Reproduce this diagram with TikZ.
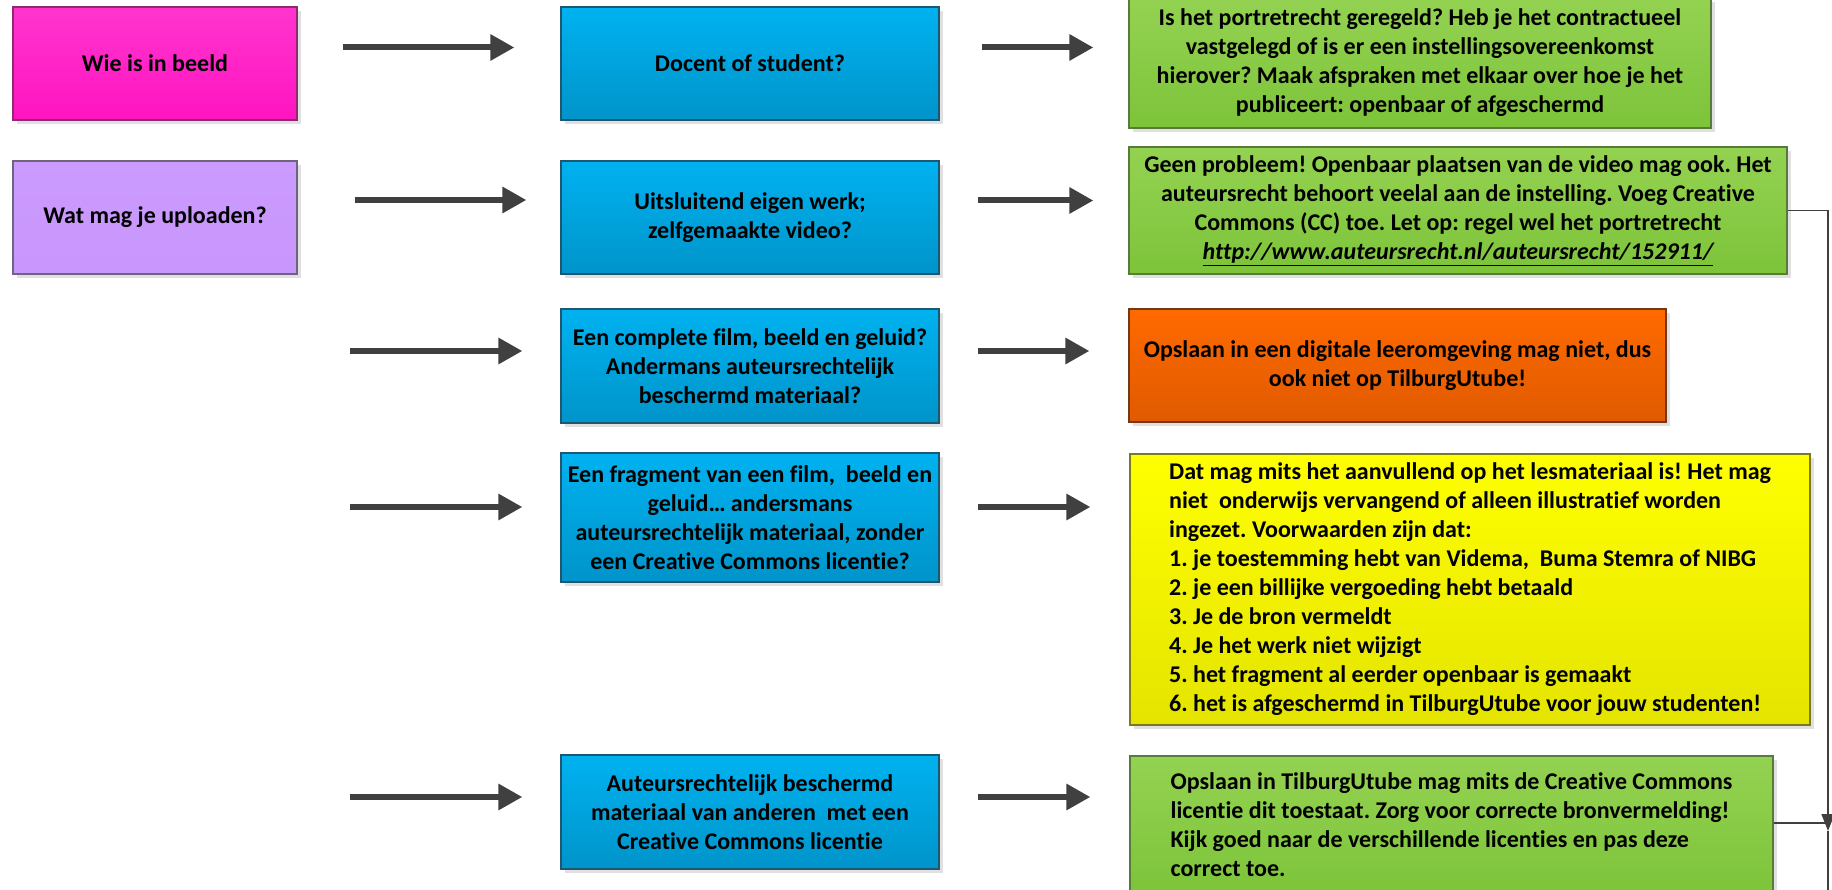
\documentclass[tikz,border=0pt]{standalone}
\usepackage{fontspec}
\setmainfont{Carlito}[Ligatures={NoCommon}]
\usetikzlibrary{arrows.meta,shadows}
\frenchspacing
\definecolor{pinkT}{HTML}{FF35CE}
\definecolor{pinkB}{HTML}{FF14C0}
\definecolor{pinkD}{HTML}{8E2A6E}
\definecolor{purpT}{HTML}{CC9BFF}
\definecolor{purpB}{HTML}{C896FC}
\definecolor{purpD}{HTML}{6F6480}
\definecolor{blueT}{HTML}{00B2F0}
\definecolor{blueB}{HTML}{0094CA}
\definecolor{blueD}{HTML}{1F5670}
\definecolor{grnT}{HTML}{94D252}
\definecolor{grnB}{HTML}{7DC43A}
\definecolor{grnD}{HTML}{587A3A}
\definecolor{orT}{HTML}{FF6A00}
\definecolor{orB}{HTML}{E05A00}
\definecolor{orD}{HTML}{6E3A1A}
\definecolor{yelT}{HTML}{FFFF00}
\definecolor{yelB}{HTML}{E4E400}
\definecolor{yelD}{HTML}{7A7A20}
\definecolor{arrgray}{HTML}{404040}
\tikzset{
  box/.style={draw, line width=1.2pt, inner sep=0pt, align=center,
    font=\fontsize{24}{29}\selectfont\bfseries,
    general shadow={fill=black!12, shadow xshift=4pt, shadow yshift=-4pt}},
  pinkbox/.style={box, draw=pinkD, top color=pinkT, bottom color=pinkB},
  purpbox/.style={box, draw=purpD, top color=purpT, bottom color=purpB},
  bluebox/.style={box, draw=blueD, top color=blueT, bottom color=blueB, minimum width=378pt},
  grnbox/.style={box, draw=grnD, top color=grnT, bottom color=grnB},
  orbox/.style={box, draw=orD, top color=orT, bottom color=orB},
  yelbox/.style={box, draw=yelD, top color=yelT, bottom color=yelB},
  blockarrow/.style={draw=arrgray, line width=6pt, -{Triangle[length=24pt,width=25pt]}, arrgray},
  conn/.style={draw=arrgray, line width=1.8pt}
}
\begin{document}
\begin{tikzpicture}[x=1pt,y=-1pt]
\useasboundingbox (0,0) rectangle (1832,890);
\fill[white] (0,0) rectangle (1832,890);
\clip (0,0) rectangle (1832,890);

% left column
\node[pinkbox, minimum width=284pt, minimum height=113pt] (who) at (155,63.5) {Wie is in beeld};
\node[purpbox, minimum width=284pt, minimum height=113pt] (what) at (155,217.5) {Wat mag je uploaden?};

% middle column
\node[bluebox, minimum height=113pt] (b1) at (750,63.5) {Docent of student?};
\node[bluebox, minimum height=113pt] (b2) at (750,217.5) {Uitsluitend eigen werk;\\zelfgemaakte video?};
\node[bluebox, minimum height=114pt] (b3) at (750,366) {Een complete film, beeld en geluid?\\Andermans auteursrechtelijk\\beschermd materiaal?};
\node[bluebox, minimum height=129pt] (b4) at (750,517.5) {Een fragment van een film,\ \ beeld en\\geluid… andersmans\\auteursrechtelijk materiaal, zonder\\een Creative Commons licentie?};
\node[bluebox, minimum height=114pt] (b5) at (750,812) {Auteursrechtelijk beschermd\\materiaal van anderen\ \ met een\\Creative Commons licentie};

% right column
\node[grnbox, minimum width=582pt, minimum height=130pt] (g1) at (1420,63) {Is het portretrecht geregeld? Heb je het contractueel\\vastgelegd of is er een instellingsovereenkomst\\hierover? Maak afspraken met elkaar over hoe je het\\publiceert: openbaar of afgeschermd};
\node[grnbox, minimum width=658pt, minimum height=127pt] (g2) at (1458,210.5) {Geen probleem! Openbaar plaatsen van de video mag ook. Het\\auteursrecht behoort veelal aan de instelling. Voeg Creative\\Commons (CC) toe. Let op: regel wel het portretrecht\\\underline{\itshape http://www.auteursrecht.nl/auteursrecht/152911/}};
\node[orbox, minimum width=537pt, minimum height=113pt] (o3) at (1397.5,365.5) {Opslaan in een digitale leeromgeving mag niet, dus\\ook niet op TilburgUtube!};
\node[yelbox, minimum width=680pt, minimum height=271pt, align=left] (y4) at (1470,589.5) {Dat mag mits het aanvullend op het lesmateriaal is! Het mag\\niet\ \ onderwijs vervangend of alleen illustratief worden\\ingezet. Voorwaarden zijn dat:\\1. je toestemming hebt van Videma,\ \ Buma Stemra of NIBG\\2. je een billijke vergoeding hebt betaald\\3. Je de bron vermeldt\\4. Je het werk niet wijzigt\\5. het fragment al eerder openbaar is gemaakt\\6. het is afgeschermd in TilburgUtube voor jouw studenten!};
\node[grnbox, minimum width=643pt, minimum height=138pt, align=left] (g5) at (1451.5,825) {Opslaan in TilburgUtube mag mits de Creative Commons\\licentie dit toestaat. Zorg voor correcte bronvermelding!\\Kijk goed naar de verschillende licenties en pas deze\\correct toe.};

% free starts of the left arrows
\coordinate (s3) at (350,351);
\coordinate (s4) at (350,507);
\coordinate (s5) at (350,797);

% arrows left -> middle
\draw[blockarrow] ([xshift=45pt,yshift=16pt]who.east) -- ([xshift=-46pt,yshift=16pt]b1.west);
\draw[blockarrow] ([xshift=57pt,yshift=17.5pt]what.east) -- ([xshift=-34pt,yshift=17.5pt]b2.west);
\draw[blockarrow] (s3) -- ([xshift=-38pt]s3 -| b3.west);
\draw[blockarrow] (s4) -- ([xshift=-38pt]s4 -| b4.west);
\draw[blockarrow] (s5) -- ([xshift=-38pt]s5 -| b5.west);

% arrows middle -> right
\draw[blockarrow] ([xshift=42pt,yshift=16pt]b1.east) -- ([xshift=-35pt,yshift=16pt]b1.east -| g1.west);
\draw[blockarrow] ([xshift=38pt,yshift=17pt]b2.east) -- ([xshift=-35pt,yshift=17pt]b2.east -| g2.west);
\draw[blockarrow] ([xshift=38pt,yshift=15pt]b3.east) -- ([xshift=-39pt,yshift=15pt]b3.east -| o3.west);
\draw[blockarrow] ([xshift=38pt,yshift=10.5pt]b4.east) -- ([xshift=-39pt,yshift=10.5pt]b4.east -| y4.west);
\draw[blockarrow] ([xshift=38pt,yshift=15pt]b5.east) -- ([xshift=-39pt,yshift=15pt]b5.east -| g5.west);

% connector on the right
\coordinate (jn) at (1828,831);
\coordinate (bot) at (1828,895);
\draw[conn, -{Triangle[length=17pt,width=13pt]}] (g2.east) -| (jn);
\draw[conn] (jn) -- (bot);
\draw[conn] ([yshift=2pt]g5.east) -- ([yshift=2pt]g5.east -| jn);
\end{tikzpicture}
\end{document}
